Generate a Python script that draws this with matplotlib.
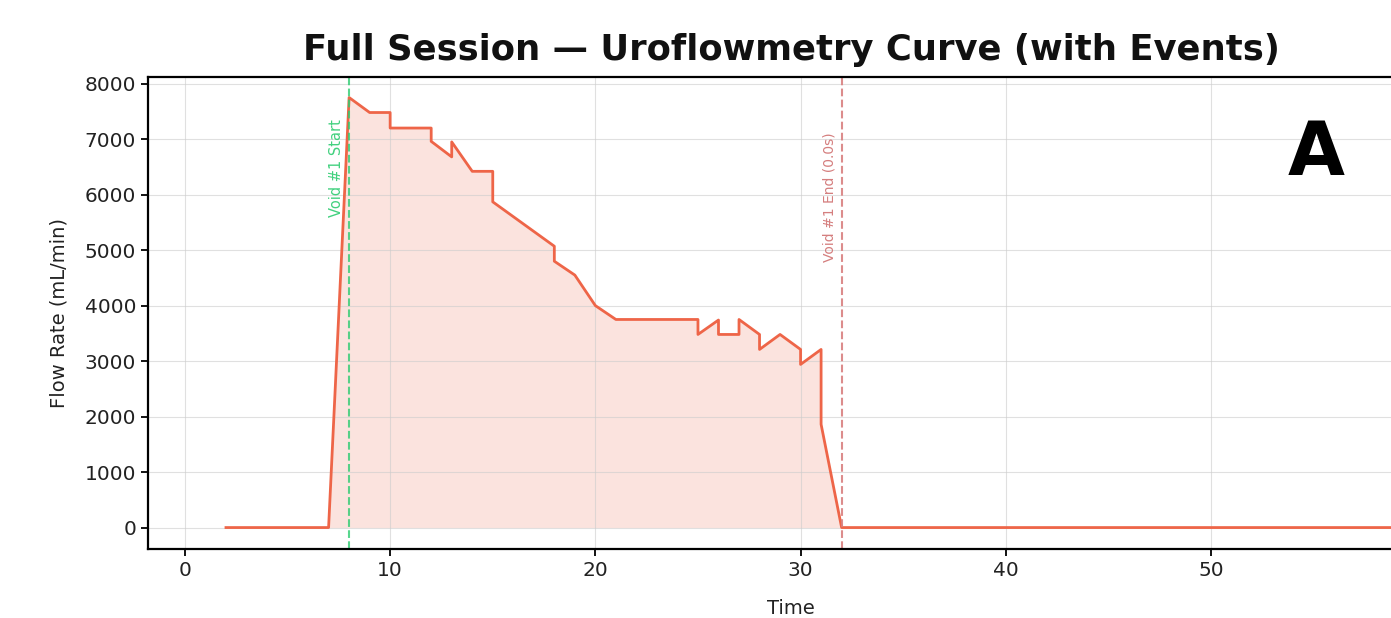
import matplotlib
matplotlib.use('Agg')
import matplotlib.pyplot as plt

# seconds, flow rate (mL/min)
time_s = [2, 7, 8, 9, 10, 10, 12, 12, 13, 13, 14, 15, 15, 18, 18, 19, 20, 21,
          25, 25, 26, 26, 27, 27, 28, 28, 29, 30, 30, 31, 31, 32, 60]
flow = [0, 0, 7750, 7480, 7480, 7200, 7200, 6960, 6680, 6950, 6420, 6420, 5870,
        5070, 4800, 4550, 4000, 3750, 3750, 3480, 3740, 3480, 3480, 3750, 3480,
        3210, 3480, 3210, 2940, 3210, 1860, 0, 0]
xticks = [0, 10, 20, 30, 40, 50]

void_start = 8
void_end = 32
end_label = "Void #1 End (0.0s)"

line_col = '#ee6548'

fig = plt.figure(figsize=(13.91, 6.18), dpi=100)
ax = fig.add_axes([0.1064, 0.1117, 0.925, 0.7637])

ax.plot(time_s, flow, color=line_col, lw=2)
ax.fill_between(time_s, flow, color=line_col, alpha=0.18, lw=0)

ymax = max(flow)
ax.axvline(void_start, color='#2ecc71', ls='--', lw=1.5, alpha=0.8)
ax.text(void_start - 0.25, ymax * 0.95, "Void #1 Start", rotation=90,
        color='#2ecc71', fontsize=10.5, ha='right', va='top', alpha=0.9)
ax.axvline(void_end, color='#d98080', ls='--', lw=1.5, alpha=0.9)
ax.text(void_end - 0.25, ymax * 0.92, end_label, rotation=90,
        color='#d07070', fontsize=10, ha='right', va='top', alpha=0.9)

ax.set_xlim(-1.8, 60.9)
ax.set_ylim(-386, 8120)
ax.set_xticks(xticks)
ax.grid(True, color='#cccccc', alpha=0.6, lw=0.8)
ax.tick_params(labelsize=14.5, width=1.3, length=5, labelcolor='#222222')
for s in ax.spines.values():
    s.set_linewidth(1.6)

ax.set_xlabel("Time", fontsize=14, labelpad=14, color='#222222')
ax.set_ylabel("Flow Rate (mL/min)", fontsize=14, labelpad=12, color='#222222')
ax.set_title("Full Session — Uroflowmetry Curve (with Events)",
             fontsize=25.5, fontweight='bold', pad=12, color='#111111')

fig.text(0.946, 0.75, "A", fontsize=53, fontweight='bold', ha='center', va='center')

fig.savefig('out.png', dpi=100)
